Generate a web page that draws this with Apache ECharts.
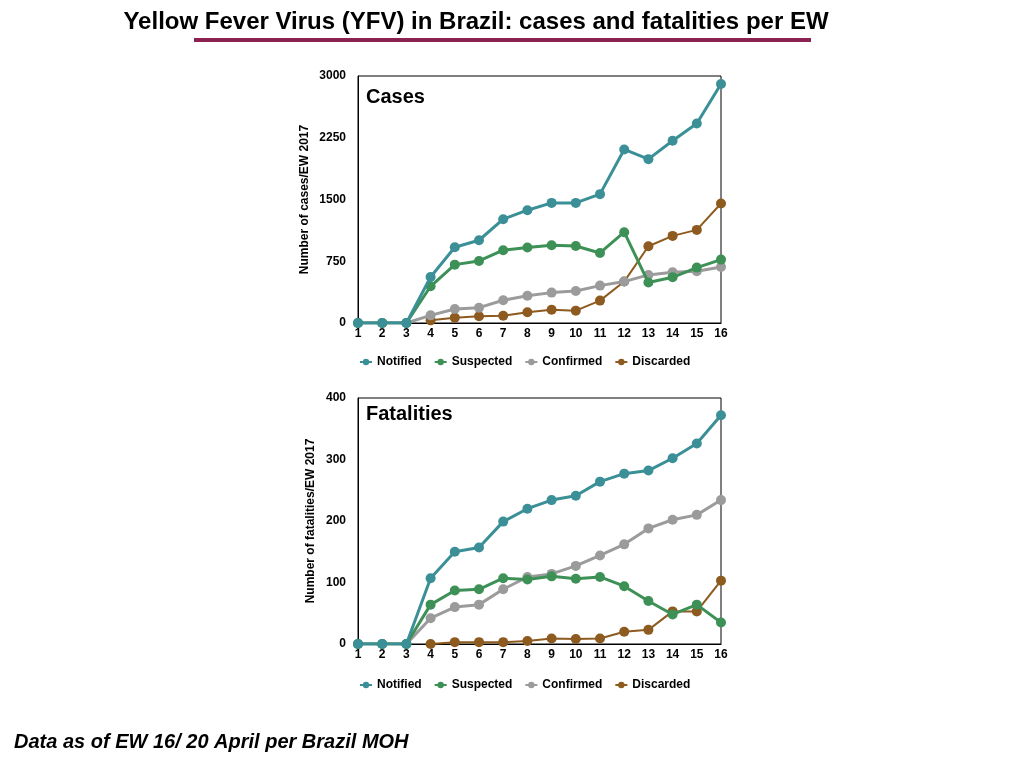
<!DOCTYPE html>
<html>
<head>
<meta charset="utf-8">
<title>Yellow Fever Virus (YFV) in Brazil</title>
<script src="https://cdn.jsdelivr.net/npm/echarts@6/dist/echarts.min.js"></script>
<style>
	html,body{margin:0;padding:0;background:#fff;}
	#main{width:1024px;height:768px;}
</style>
</head>
<body>
<div id="main"></div>
<script>
'use strict'
// epidemiological weeks
var weeks=['1','2','3','4','5','6','7','8','9','10','11','12','13','14','15','16'];
var seriesNames=['Notified','Suspected','Confirmed','Discarded'];

// cases per EW
var casesNotified=[0,0,0,559,920,1005,1261,1370,1459,1459,1565,2108,1990,2214,2424,2903];
var casesSuspected=[0,0,0,446,709,754,884,916,945,936,851,1103,491,555,673,770];
var casesConfirmed=[0,0,0,93,170,186,276,332,369,389,454,503,584,616,628,681];
var casesDiscarded=[null,null,null,32,65,81,89,130,162,150,272,503,932,1058,1131,1451];

// fatalities per EW
var fatNotified=[0,0,0,107,150,157,199,220,234,241,264,277,282,302,326,372];
var fatSuspected=[0,0,0,64,87,89,107,105,110,106,109,94,70,48,64,35];
var fatConfirmed=[0,0,0,42,60,64,89,109,114,127,144,162,188,202,210,234];
var fatDiscarded=[null,null,null,0,3,3,3,5,9,8,9,20,23,53,53,103];

window.onload=function (){
	var myChart=echarts.init(document.getElementById('main'));
	var colors=['#3b8f96','#3d9056','#9b9b9b','#8d5a1f'];
	var widths=[3,3,3,2];
	var font='Liberation Sans, Arial, sans-serif';

	function makeSeries(name,data,grid){
		var i=seriesNames.indexOf(name);
		return {
			name:name,
			type:'line',
			xAxisIndex:grid,
			yAxisIndex:grid,
			data:data,
			symbol:'circle',
			symbolSize:10,
			showAllSymbol:true,
			connectNulls:false,
			z:10-i,
			itemStyle:{color:colors[i]},
			lineStyle:{color:colors[i],width:widths[i]}
		};
	}

	function xAxis(grid){
		return {
			type:'category',
			gridIndex:grid,
			data:weeks,
			boundaryGap:false,
			axisLine:{lineStyle:{color:'#000',width:1}},
			axisTick:{show:false},
			axisLabel:{color:'#000',fontWeight:'bold',fontSize:12,fontFamily:font,margin:5,interval:0}
		};
	}

	function yAxis(grid,max,interval,name,gap){
		return {
			type:'value',
			gridIndex:grid,
			min:0,
			max:max,
			interval:interval,
			name:name,
			nameLocation:'middle',
			nameGap:gap,
			nameTextStyle:{color:'#000',fontWeight:'bold',fontSize:12,fontFamily:font},
			axisLine:{show:true,lineStyle:{color:'#000',width:1}},
			axisTick:{show:false},
			splitLine:{show:false},
			axisLabel:{color:'#000',fontWeight:'bold',fontSize:12,fontFamily:font,margin:12,
				formatter:function (v){return String(v);}}
		};
	}

	function legend(top){
		return {
			data:seriesNames,
			top:top,
			left:354,
			itemWidth:12,
			itemHeight:8,
			itemGap:12,
			textStyle:{color:'#000',fontWeight:'bold',fontSize:12,fontFamily:font}
		};
	}

	var option={
		animation:false,
		title:[
			{
				text:'Yellow Fever Virus (YFV) in Brazil: cases and fatalities per EW',
				left:471,
				top:5,
				textAlign:'center',
				textStyle:{color:'#000',fontWeight:'bold',fontSize:24,fontFamily:font}
			},
			{
				text:'Cases',
				left:361,
				top:82,
				textStyle:{color:'#000',fontWeight:'bold',fontSize:20,fontFamily:font}
			},
			{
				text:'Fatalities',
				left:361,
				top:399,
				textStyle:{color:'#000',fontWeight:'bold',fontSize:20,fontFamily:font}
			},
			{
				text:'Data as of EW 16/ 20 April per Brazil MOH',
				left:9,
				top:727,
				textStyle:{color:'#000',fontWeight:'bold',fontStyle:'italic',fontSize:20,fontFamily:font}
			}
		],
		graphic:[
			{type:'rect',shape:{x:194,y:38,width:617,height:4},style:{fill:'#8b2252'}}
		],
		legend:[legend(351),legend(674)],
		grid:[
			{left:358,top:76,width:363,height:247,show:true,borderColor:'#000',borderWidth:1,backgroundColor:'transparent'},
			{left:358,top:398,width:363,height:246,show:true,borderColor:'#000',borderWidth:1,backgroundColor:'transparent'}
		],
		xAxis:[xAxis(0),xAxis(1)],
		yAxis:[
			yAxis(0,3000,750,'Number of cases/EW 2017',47),
			yAxis(1,400,100,'Number of fatalities/EW 2017',41)
		],
		series:[
			makeSeries('Notified',casesNotified,0),
			makeSeries('Suspected',casesSuspected,0),
			makeSeries('Confirmed',casesConfirmed,0),
			makeSeries('Discarded',casesDiscarded,0),
			makeSeries('Notified',fatNotified,1),
			makeSeries('Suspected',fatSuspected,1),
			makeSeries('Confirmed',fatConfirmed,1),
			makeSeries('Discarded',fatDiscarded,1)
		]
	};
	myChart.setOption(option);
};
</script>
</body>
</html>
